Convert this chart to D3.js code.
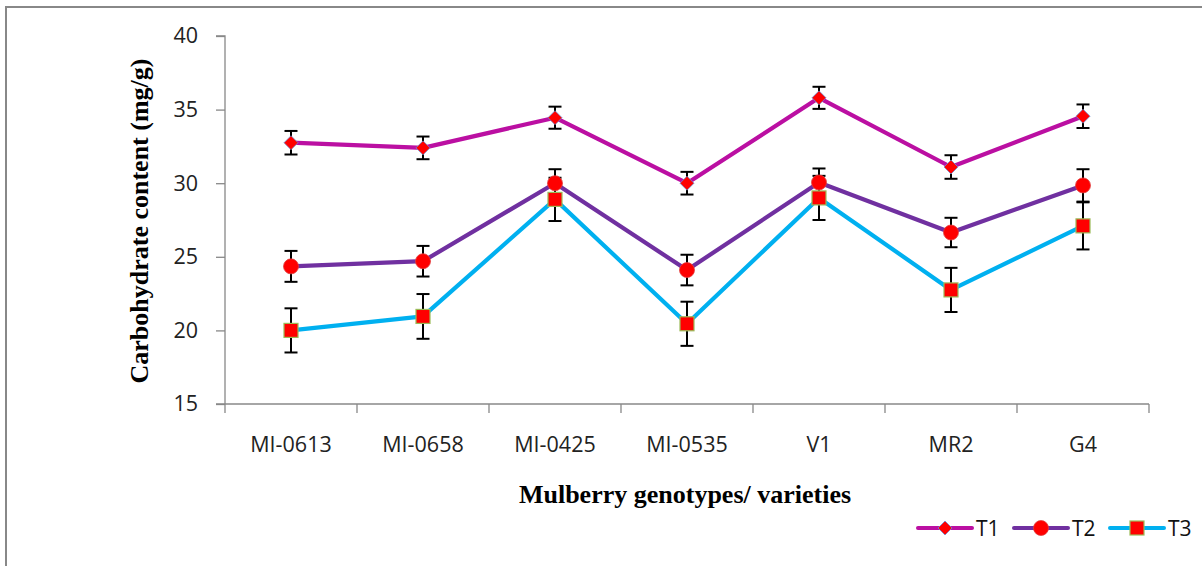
<!DOCTYPE html>
<html><head><meta charset="utf-8">
<script src="https://cdn.jsdelivr.net/npm/d3@7"></script>
<style>body{margin:0;background:#fff}svg{display:block}</style>
</head><body>
<script>
const categories = ["MI-0613","MI-0658","MI-0425","MI-0535","V1","MR2","G4"];
const t1 = [32.75, 32.4, 34.45, 30.0, 35.8, 31.1, 34.55];
const t2 = [24.35, 24.7, 30.0, 24.1, 30.05, 26.65, 29.85];
const t3 = [20.0, 20.95, 28.9, 20.45, 29.0, 22.75, 27.1];
const t1Err = [0.8, 0.77, 0.75, 0.77, 0.75, 0.8, 0.8];
const t2Err = [1.05, 1.04, 0.95, 1.04, 0.95, 1.0, 1.1];
const t3Err = [1.5, 1.52, 1.47, 1.5, 1.5, 1.5, 1.6];
const yTicks = [15, 20, 25, 30, 35, 40];
const seriesNames = ["T1","T2","T3"];

const W = 1202, H = 566;
const svg = d3.select("body").append("svg").attr("width", W).attr("height", H);

// frame
svg.append("path").attr("d", `M6,${H} L6,7 L${W},7`).attr("fill","none").attr("stroke","#888").attr("stroke-width",2);

const x0 = 225, x1 = 1149, yTop = 36, yBot = 404;
const x = d3.scaleBand().domain(categories).range([x0, x1]);
const y = d3.scaleLinear().domain([15, 40]).range([yBot, yTop]);

const tickFont = "'Open Sans', sans-serif";
// y axis
const yAxis = svg.append("g").attr("transform", `translate(${x0},0)`)
  .call(d3.axisLeft(y).tickValues(yTicks).tickSize(9).tickPadding(18));
yAxis.select(".domain").attr("stroke","#888").attr("stroke-width",1.3).attr("d", `M-9,${yTop}H0V${yBot}`);
yAxis.selectAll(".tick line").attr("stroke","#888").attr("stroke-width",1.3);
yAxis.selectAll(".tick text").attr("font-family", tickFont).attr("font-size", 21.5).attr("fill","#222");

// x axis
const xAxis = svg.append("g").attr("transform", `translate(0,${yBot})`)
  .call(d3.axisBottom(x).tickSize(0).tickPadding(33));
xAxis.select(".domain").attr("stroke","#888").attr("stroke-width",1.3).attr("d", `M${x0-9},0H${x1}`);
xAxis.selectAll(".tick text").attr("font-family", tickFont).attr("font-size", 21.5).attr("fill","#222");
const boundaries = categories.map(c => x(c)).concat([x1]);
xAxis.selectAll(".bt").data(boundaries).enter().append("line")
  .attr("x1", d => d).attr("x2", d => d).attr("y1", 0).attr("y2", 9)
  .attr("stroke","#888").attr("stroke-width",1.3);

// titles
svg.append("text").attr("transform", `translate(148,${(yTop+yBot)/2 + 1}) rotate(-90)`)
  .attr("text-anchor","middle").attr("font-family","'Liberation Serif', serif").attr("font-weight","bold")
  .attr("font-size", 26).attr("fill","#000").text("Carbohydrate content (mg/g)");
svg.append("text").attr("x", 685).attr("y", 503)
  .attr("text-anchor","middle").attr("font-family","'Liberation Serif', serif").attr("font-weight","bold")
  .attr("font-size", 26).attr("fill","#000").text("Mulberry genotypes/ varieties");

const series = [
  {name: seriesNames[0], values: t1, err: t1Err, color: "#BB0FA2", marker: "diamond"},
  {name: seriesNames[1], values: t2, err: t2Err, color: "#7030A0", marker: "circle"},
  {name: seriesNames[2], values: t3, err: t3Err, color: "#00B0F0", marker: "square"}
];
const cx = c => x(c) + x.bandwidth()/2;

function drawMarker(g, type, px, py) {
  if (type === "diamond") {
    g.append("path").attr("d", `M${px},${py-7}L${px+7},${py}L${px},${py+7}L${px-7},${py}Z`)
      .attr("fill","#FF0000").attr("stroke","#6F8FD0").attr("stroke-width",0.8);
  } else if (type === "circle") {
    g.append("circle").attr("cx", px).attr("cy", py).attr("r", 7.5).attr("fill","#FF0000").attr("stroke","#E04040").attr("stroke-width",0.8);
  } else {
    g.append("rect").attr("x", px-7).attr("y", py-7).attr("width",14).attr("height",14)
      .attr("fill","#FF0000").attr("stroke","#9BBB59").attr("stroke-width",1.2);
  }
}

const line = d3.line().x((d,i) => cx(categories[i])).y(d => y(d));
series.forEach(s => {
  svg.append("path").datum(s.values).attr("d", line).attr("fill","none")
    .attr("stroke", s.color).attr("stroke-width", 4.2).attr("stroke-linejoin","round");
});
series.forEach(s => {
  const g = svg.append("g");
  s.values.forEach((v,i) => {
    const px = cx(categories[i]);
    const e = s.err[i];
    g.append("line").attr("x1",px).attr("x2",px).attr("y1",y(v+e)).attr("y2",y(v-e)).attr("stroke","#000").attr("stroke-width",2);
    [v+e, v-e].forEach(w => g.append("line").attr("x1",px-6.5).attr("x2",px+6.5).attr("y1",y(w)).attr("y2",y(w)).attr("stroke","#000").attr("stroke-width",2));
  });
});
series.forEach(s => {
  const g = svg.append("g");
  s.values.forEach((v,i) => drawMarker(g, s.marker, cx(categories[i]), y(v)));
});

// legend
const legX = [918, 1014, 1110];
series.forEach((s, i) => {
  const g = svg.append("g");
  const lx = legX[i], ly = 528;
  g.append("line").attr("x1", lx).attr("x2", lx+54).attr("y1", ly).attr("y2", ly)
    .attr("stroke", s.color).attr("stroke-width", 4).attr("stroke-linecap","round");
  drawMarker(g, s.marker, lx+27, ly);
  g.append("text").attr("x", lx+58).attr("y", ly+8).attr("font-family", tickFont).attr("font-size", 21).attr("fill","#111").text(s.name);
});
</script>
</body></html>
